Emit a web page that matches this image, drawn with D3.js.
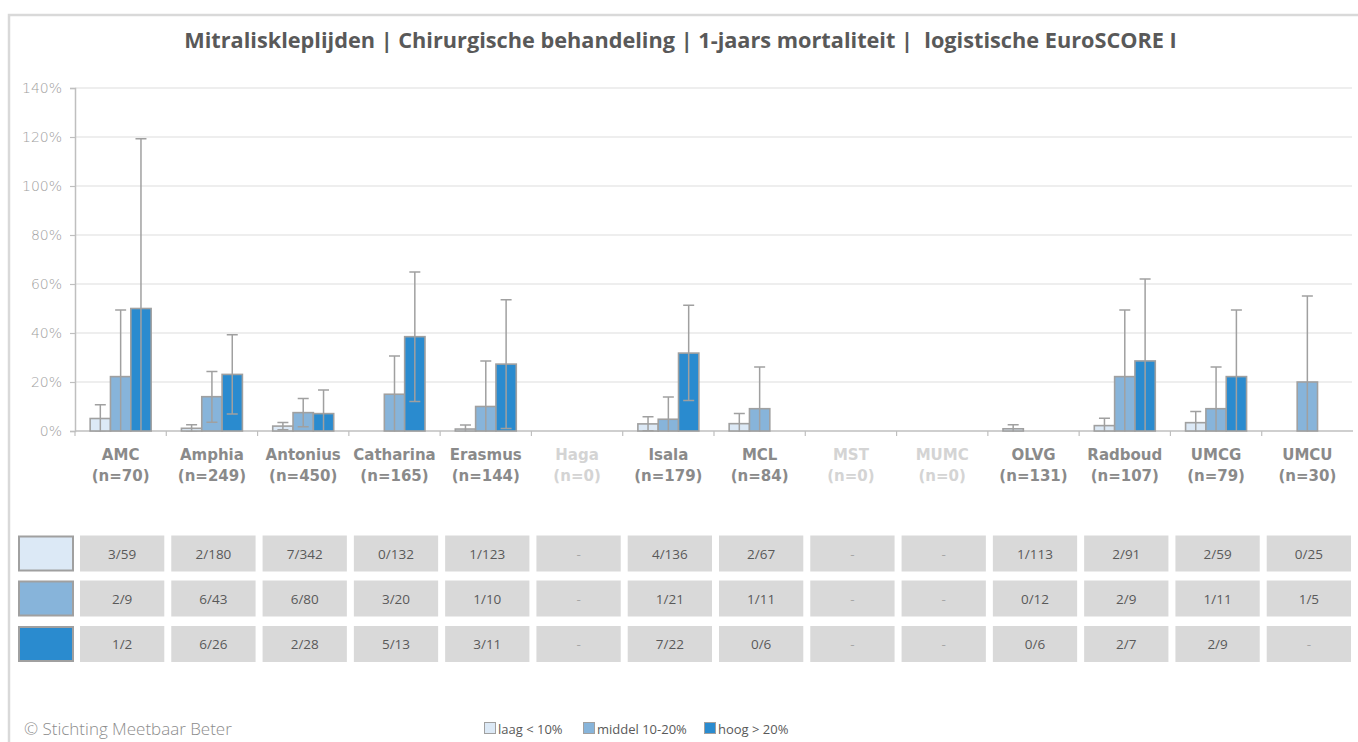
<!DOCTYPE html>
<html>
<head>
<meta charset="utf-8">
<script src="https://cdn.jsdelivr.net/npm/d3@7"></script>
<style>
  html, body { margin: 0; padding: 0; background: #ffffff; }
  svg { display: block; }
  text { white-space: pre; }
</style>
</head>
<body>
<svg id="chart" width="1358" height="742"></svg>
<script>
// ---------------- DATA ----------------
const titleText = "Mitraliskleplijden | Chirurgische behandeling | 1-jaars mortaliteit |  logistische EuroSCORE I";
const categories = ["AMC", "Amphia", "Antonius", "Catharina", "Erasmus", "Haga", "Isala", "MCL", "MST", "MUMC", "OLVG", "Radboud", "UMCG", "UMCU"];
const nLabels = ["(n=70)", "(n=249)", "(n=450)", "(n=165)", "(n=144)", "(n=0)", "(n=179)", "(n=84)", "(n=0)", "(n=0)", "(n=131)", "(n=107)", "(n=79)", "(n=30)"];
const seriesNames = ["laag < 10%", "middel 10-20%", "hoog > 20%"];
const yTicks = [0, 20, 40, 60, 80, 100, 120, 140];

// mortality percentages
const laagValues   = [5.1, 1.1, 2.0, 0, 0.8, null, 2.9, 3.0, null, null, 0.9, 2.2, 3.4, 0];
const middelValues = [22.2, 14.0, 7.5, 15.0, 10.0, null, 4.8, 9.1, null, null, 0, 22.2, 9.1, 20.0];
const hoogValues   = [50.0, 23.1, 7.1, 38.5, 27.3, null, 31.8, 0, null, null, 0, 28.6, 22.2, null];

// error bar upper / lower ends (percent)
const laagHigh   = [10.7, 2.6, 3.5, null, 2.4, null, 5.8, 7.1, null, null, 2.6, 5.2, 8.0, null];
const laagLow    = [-0.5, -0.4, 0.5, null, -0.8, null, 0.1, -1.1, null, null, -0.8, -0.8, -1.2, null];
const middelHigh = [49.4, 24.3, 13.3, 30.6, 28.6, null, 13.9, 26.1, null, null, null, 49.4, 26.1, 55.1];
const middelLow  = [-5.0, 3.6, 1.7, -0.6, -8.6, null, -4.3, -7.9, null, null, null, -5.0, -7.9, -15.1];
const hoogHigh   = [119.3, 39.3, 16.7, 64.9, 53.6, null, 51.3, null, null, null, null, 62.0, 49.4, null];
const hoogLow    = [-19.3, 6.9, -2.4, 12.0, 1.0, null, 12.4, null, null, null, null, -4.9, -5.0, null];

// table counts
const laagTable   = ["3/59", "2/180", "7/342", "0/132", "1/123", "-", "4/136", "2/67", "-", "-", "1/113", "2/91", "2/59", "0/25"];
const middelTable = ["2/9", "6/43", "6/80", "3/20", "1/10", "-", "1/21", "1/11", "-", "-", "0/12", "2/9", "1/11", "1/5"];
const hoogTable   = ["1/2", "6/26", "2/28", "5/13", "3/11", "-", "7/22", "0/6", "-", "-", "0/6", "2/7", "2/9", "-"];

const footerText = "© Stichting Meetbaar Beter";

// ---------------- STYLE ----------------
const colors = ["#dce9f6", "#87b4da", "#2a8bcf"];
const seriesValues = [laagValues, middelValues, hoogValues];
const seriesHigh = [laagHigh, middelHigh, hoogHigh];
const seriesLow = [laagLow, middelLow, hoogLow];
const tableRows = [laagTable, middelTable, hoogTable];

const svg = d3.select("#chart");

function fitWidth(sel, base, target) {
  const w = sel.node().getComputedTextLength();
  sel.attr("font-size", base * target / w);
}

// frame
svg.append("rect")
  .attr("x", 9).attr("y", 15).attr("width", 1360).attr("height", 740)
  .attr("fill", "none").attr("stroke", "#d9d9d9").attr("stroke-width", 2.5);

// title (fit to the reference width)
const title = svg.append("text")
  .attr("x", 680.5).attr("y", 48)
  .attr("text-anchor", "middle")
  .attr("font-family", "'Open Sans', sans-serif")
  .attr("font-weight", 700)
  .attr("fill", "#595959")
  .attr("font-size", 16)
  .text(titleText);
fitWidth(title, 16, 993);

// scales
const x0 = d3.scaleBand().domain(categories).range([75, 1353]).paddingInner(0).paddingOuter(0);
const bw = x0.bandwidth();
const x1 = d3.scaleBand().domain(d3.range(3)).range([bw * 0.166, bw * 0.834]).padding(0);
const y = d3.scaleLinear().domain([0, 140]).range([431, 88]);

// gridlines
svg.append("g").selectAll("line")
  .data(yTicks.filter(d => d > 0))
  .join("line")
  .attr("x1", 75).attr("x2", 1352)
  .attr("y1", d => y(d)).attr("y2", d => y(d))
  .attr("stroke", "#e8e8e8").attr("stroke-width", 1.5);

// y axis
const yAxis = svg.append("g")
  .attr("transform", "translate(75,0)")
  .call(d3.axisLeft(y).tickValues(yTicks).tickSize(5).tickPadding(8).tickFormat(d => d + "%"));
yAxis.select(".domain").attr("stroke", "#bfbfbf").attr("stroke-width", 1.5);
yAxis.selectAll(".tick line").attr("stroke", "#bfbfbf").attr("stroke-width", 1.2);
yAxis.selectAll(".tick text")
  .attr("font-family", "'DejaVu Sans', sans-serif")
  .attr("font-size", 14)
  .attr("font-weight", 300)
  .attr("fill", "#9e9e9e");

// x axis line and boundary ticks
svg.append("line")
  .attr("x1", 75).attr("x2", 1353).attr("y1", y(0)).attr("y2", y(0))
  .attr("stroke", "#bfbfbf").attr("stroke-width", 1.5);
svg.append("g").selectAll("line")
  .data(categories)
  .join("line")
  .attr("x1", d => x0(d)).attr("x2", d => x0(d))
  .attr("y1", y(0)).attr("y2", y(0) + 5)
  .attr("stroke", "#bfbfbf").attr("stroke-width", 1.2);

// x labels
const xl = svg.append("g");
categories.forEach((c, i) => {
  const col = nLabels[i] === "(n=0)" ? "#d4d4d4" : "#8a8a8a";
  const cx = x0(c) + bw / 2;
  xl.append("text").attr("x", cx).attr("y", 460)
    .attr("text-anchor", "middle")
    .attr("font-family", "'DejaVu Sans', sans-serif").attr("font-weight", 700)
    .attr("font-size", 15).attr("fill", col).text(c);
  xl.append("text").attr("x", cx).attr("y", 481)
    .attr("text-anchor", "middle")
    .attr("font-family", "'DejaVu Sans', sans-serif").attr("font-weight", 700)
    .attr("font-size", 15).attr("fill", col).text(nLabels[i]);
});

// bars
const barData = [];
categories.forEach((c, i) => {
  for (let s = 0; s < 3; s++) {
    barData.push({ c, s, v: seriesValues[s][i], hi: seriesHigh[s][i], lo: seriesLow[s][i] });
  }
});

svg.append("g").selectAll("rect")
  .data(barData.filter(d => d.v != null && d.v > 0))
  .join("rect")
  .attr("x", d => x0(d.c) + x1(d.s))
  .attr("width", x1.bandwidth())
  .attr("y", d => y(d.v))
  .attr("height", d => y(0) - y(d.v))
  .attr("fill", d => colors[d.s])
  .attr("stroke", "#a0a0a0")
  .attr("stroke-width", 1.6);

// error bars (clipped to plot area)
svg.append("clipPath").attr("id", "plotclip")
  .append("rect").attr("x", 60).attr("y", 80).attr("width", 1300).attr("height", y(0) - 80 + 0.5);

const eb = svg.append("g").attr("clip-path", "url(#plotclip)");
const ebData = barData.filter(d => d.v != null && d.v > 0 && d.hi != null);
const capW = 5.5;
ebData.forEach(d => {
  const cx = x0(d.c) + x1(d.s) + x1.bandwidth() / 2;
  eb.append("line").attr("x1", cx).attr("x2", cx)
    .attr("y1", y(d.hi)).attr("y2", y(d.lo))
    .attr("stroke", "#a0a0a0").attr("stroke-width", 1.5);
  eb.append("line").attr("x1", cx - capW).attr("x2", cx + capW)
    .attr("y1", y(d.hi)).attr("y2", y(d.hi))
    .attr("stroke", "#a0a0a0").attr("stroke-width", 1.5);
  eb.append("line").attr("x1", cx - capW).attr("x2", cx + capW)
    .attr("y1", y(d.lo)).attr("y2", y(d.lo))
    .attr("stroke", "#a0a0a0").attr("stroke-width", 1.5);
});

// table
const rowTops = [535.5, 580.5, 626];
const rowH = 36;
const tbl = svg.append("g");
tableRows.forEach((row, r) => {
  tbl.append("rect")
    .attr("x", 19).attr("y", rowTops[r] + 1).attr("width", 54).attr("height", rowH - 2)
    .attr("fill", colors[r]).attr("stroke", "#a0a0a0").attr("stroke-width", 2);
  row.forEach((t, i) => {
    const bx = x0(categories[i]);
    tbl.append("rect")
      .attr("x", bx + 5).attr("y", rowTops[r]).attr("width", bw - 7).attr("height", rowH)
      .attr("fill", "#d9d9d9");
    tbl.append("text")
      .attr("x", bx + 5 + (bw - 7) / 2).attr("y", rowTops[r] + rowH / 2 + 5)
      .attr("text-anchor", "middle")
      .attr("font-family", "'Open Sans', sans-serif")
      .attr("font-size", 13.5)
      .attr("fill", t === "-" ? "#a6a6a6" : "#595959")
      .text(t);
  });
});

// footer
const footer = svg.append("text")
  .attr("x", 24).attr("y", 735)
  .attr("font-family", "'Open Sans', sans-serif").attr("font-size", 14)
  .attr("font-weight", 300)
  .attr("fill", "#8c8c8c")
  .text(footerText);
fitWidth(footer, 14, 208);

// legend
const legX = [484, 583, 704];
const leg = svg.append("g");
seriesNames.forEach((name, s) => {
  leg.append("rect")
    .attr("x", legX[s] + 0.5).attr("y", 722.5).attr("width", 11).attr("height", 11)
    .attr("fill", colors[s]).attr("stroke", "#a0a0a0").attr("stroke-width", 1);
  leg.append("text")
    .attr("x", legX[s] + 14).attr("y", 734)
    .attr("font-family", "'Open Sans', sans-serif").attr("font-size", 13)
    .attr("fill", "#595959")
    .text(name);
});
</script>
</body>
</html>
